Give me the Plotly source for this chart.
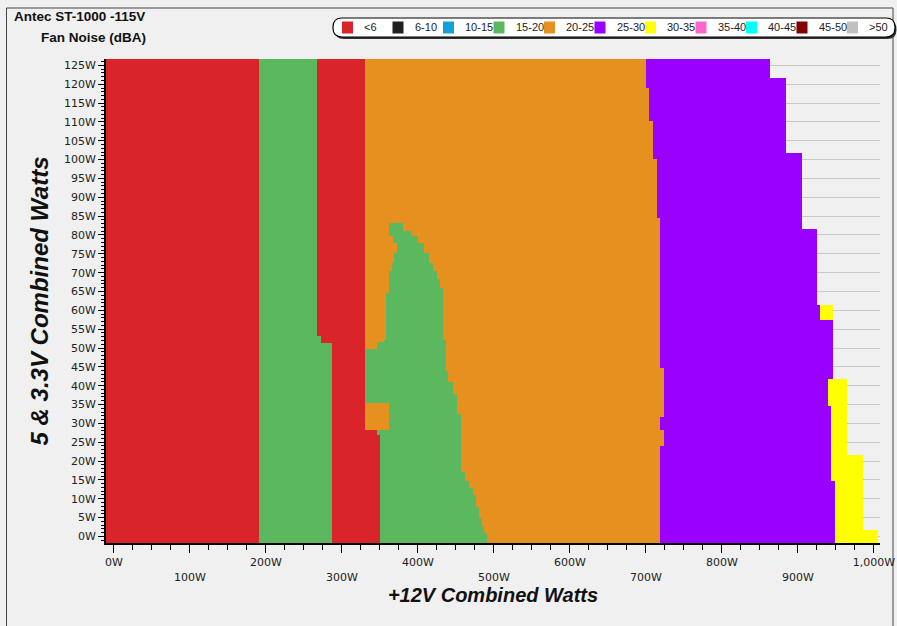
import numpy as np
import plotly.graph_objects as go

# ---------------- data ----------------
categories = ["<6", "6-10", "10-15", "15-20", "20-25", "25-30", "30-35", "35-40", "40-45", "45-50", ">50"]
cat_colors = ["#d9252a", "#231f20", "#12a0d7", "#5cb85f", "#e69020", "#9900ff",
              "#ffff00", "#ff66cc", "#00ffff", "#800000", "#c0c0c0"]

# Boundaries between noise zones: for each boundary, the lower edge (W, 5V&3.3V load)
# of each band and the +12V load (W) where the zone changes.
red1_end_y = [0]
red1_end_x = [191]

green1_end_y = [0, 51.5, 53.1]
green1_end_x = [287, 273, 267.5]

red2_end_y = [0, 27, 28.3]
red2_end_x = [350, 345.7, 331]

green2_start_y = [0, 27, 28.3, 35.5, 49.8, 51.7, 52.2, 64.7, 70.3, 72.6, 75.2, 77.9, 79.6, 83.2]
green2_start_x = [350, 345.7, 362, 331, 347, 356, 359, 362, 366, 369, 373, 368, 363, None]

green2_end_y = [0, 1, 3, 5, 8, 11, 13, 14.6, 17.2, 32.3, 38, 41, 44, 52.2, 66, 68.5, 70.3,
                72.6, 75.2, 77.9, 79.6, 81.2, 83.2]
green2_end_x = [491, 488, 485, 481, 477, 473, 467, 462, 457, 452, 446, 440, 437, 433, 429, 425, 420,
                415, 409, 401, 391, 381, None]

purple_start_y = [0, 23.9, 28.2, 31.6, 44.7, 84.5, 100.2, 110.2, 119]
purple_start_x = [719, 724, 719, 724, 719, 715, 710, 705, 700]

purple_end_y = [0, 14.6, 34.7, 41.8, 57.5, 61.5, 81.6, 101.6, 121.7]
purple_end_x = [949, 944, 940, 946, 929, 926, 906, 885, 863]

yellow_end_y = [0, 1.6, 21.7, 41.8, 57.5, 61.5]
yellow_end_x = [1006, 986, 965, None, 946, None]

y_tick_vals = list(range(0, 130, 5))
y_tick_text = [f"{v}W" for v in y_tick_vals]
x_tick_vals = list(range(0, 1100, 100))
x_tick_text = ["0W", "100W", "200W", "300W", "400W", "500W", "600W", "700W", "800W", "900W", "1,000W"]

# ---------------- grid ----------------
X_MIN, X_MAX = -10.5, 1008
Y_MIN, Y_MAX = -1.75, 126.7
xs = np.arange(-11.0, 1010.0, 1.0)
ys = np.arange(-2.0, 127.5, 0.25)


def step(yl, xv, y):
    idx = np.searchsorted(np.array(yl, float), y, side="right") - 1
    idx = np.clip(idx, 0, None)
    return np.array(xv, dtype=float)[idx]


z = np.full((len(ys), len(xs)), np.nan)
X = xs[None, :]


def paint(a, b, cat):
    m = (X >= a[:, None]) & (X < b[:, None])
    z[m] = cat


r1 = step(red1_end_y, red1_end_x, ys)
g1 = step(green1_end_y, green1_end_x, ys)
r2 = step(red2_end_y, red2_end_x, ys)
o1 = step(green2_start_y, green2_start_x, ys)
g2 = step(green2_end_y, green2_end_x, ys)
p0 = step(purple_start_y, purple_start_x, ys)
p1 = step(purple_end_y, purple_end_x, ys)
y1 = step(yellow_end_y, yellow_end_x, ys)
xmin_arr = np.full(len(ys), -20.0)

paint(xmin_arr, r1, 0)
paint(r1, g1, 3)
paint(g1, r2, 0)
paint(r2, p0, 4)
paint(o1, g2, 3)
paint(p0, p1, 5)
paint(p1, y1, 6)

n = len(categories)
colorscale = []
for k, c in enumerate(cat_colors):
    colorscale.append([k / n, c])
    colorscale.append([(k + 1) / n, c])

fig = go.Figure()
fig.add_trace(go.Heatmap(x=xs, y=ys, z=z, colorscale=colorscale, zmin=-0.5, zmax=n - 0.5,
                         showscale=False, hoverinfo="skip", zsmooth=False, showlegend=False))

# ---------------- layout ----------------
W, H = 897, 626
ML, MR, MT, MB = 106, 17, 59, 83
PW, PH = W - ML - MR, H - MT - MB


def px_x(px):
    return (px - ML) / PW


def px_y(py):
    return (H - MB - py) / PH


def rounded(x0, y0, x1, y1, r):
    X0, X1 = px_x(x0), px_x(x1)
    Y0, Y1 = px_y(y0), px_y(y1)
    rx = r / PW
    ry = r / PH
    return (f"M {X0+rx},{Y0} L {X1-rx},{Y0} Q {X1},{Y0} {X1},{Y0-ry} L {X1},{Y1+ry} "
            f"Q {X1},{Y1} {X1-rx},{Y1} L {X0+rx},{Y1} Q {X0},{Y1} {X0},{Y1+ry} L {X0},{Y0-ry} "
            f"Q {X0},{Y0} {X0+rx},{Y0} Z")


shapes = [
    dict(type="rect", xref="paper", yref="paper", x0=px_x(6.5), x1=px_x(893), y0=px_y(8), y1=px_y(640),
         line=dict(color="#444444", width=1), fillcolor="rgba(0,0,0,0)", layer="below"),
    dict(type="path", xref="paper", yref="paper", path=rounded(335, 20.5, 896.5, 39, 9),
         fillcolor="#333333", line=dict(width=0), layer="above"),
    dict(type="path", xref="paper", yref="paper", path=rounded(333, 18, 895, 37, 9),
         fillcolor="#ffffff", line=dict(color="#000000", width=1.2), layer="above"),
]

annotations = [
    dict(text="<b>Antec ST-1000 -115V</b>", xref="paper", yref="paper", x=px_x(12), y=px_y(16.5),
         xanchor="left", yanchor="middle", showarrow=False,
         font=dict(family="Liberation Sans", size=13.5, color="#111111")),
    dict(text="<b>Fan Noise (dBA)</b>", xref="paper", yref="paper", x=px_x(39), y=px_y(37),
         xanchor="left", yanchor="middle", showarrow=False,
         font=dict(family="Liberation Sans", size=13.5, color="#111111")),
]

# legend keys (one swatch + label per noise category)
LEG_X0, LEG_STEP, LEG_Y = 342, 50.5, 27.5
for k, (lab, col) in enumerate(zip(categories, cat_colors)):
    sx = LEG_X0 + k * LEG_STEP
    shapes.append(dict(type="rect", xref="paper", yref="paper",
                       x0=px_x(sx), x1=px_x(sx + 11), y0=px_y(LEG_Y - 6), y1=px_y(LEG_Y + 6),
                       fillcolor=col, line=dict(width=0), layer="above"))
    annotations.append(dict(text=lab.replace("<", "&lt;").replace(">", "&gt;"), xref="paper", yref="paper",
                            x=px_x(sx + 20), y=px_y(LEG_Y), xanchor="left", yanchor="middle",
                            showarrow=False,
                            font=dict(family="Liberation Sans", size=11, color="#222222")))

tickfont = dict(family="DejaVu Sans", size=11, color="#222222")

fig.update_layout(
    width=W, height=H,
    margin=dict(l=ML, r=MR, t=MT, b=MB, autoexpand=False),
    paper_bgcolor="#f0f0f0", plot_bgcolor="#f0f0f0",
    shapes=shapes,
    annotations=annotations,
    showlegend=False,
    xaxis=dict(range=[X_MIN, X_MAX], tickvals=x_tick_vals,
               ticktext=[t if i % 2 == 0 else "<br>" + t for i, t in enumerate(x_tick_text)],
               ticks="outside", ticklen=8, tickcolor="#000000", tickwidth=1,
               showline=True, linewidth=2, linecolor="#000000", showgrid=False, zeroline=False,
               minor=dict(dtick=25, tick0=0, ticks="outside", ticklen=5, tickcolor="#000000", showgrid=False),
               tickfont=tickfont,
               title=dict(text="<b><i>+12V Combined Watts</i></b>", standoff=3,
                          font=dict(family="Liberation Sans", size=20, color="#111111"))),
    yaxis=dict(range=[Y_MIN, Y_MAX], tickvals=y_tick_vals, ticktext=y_tick_text,
               ticks="outside", ticklen=6, tickcolor="#000000", tickwidth=1,
               showline=True, linewidth=2, linecolor="#000000",
               showgrid=True, gridcolor="#c8c8c8", gridwidth=1, zeroline=False,
               minor=dict(dtick=1, tick0=0, ticks="outside", ticklen=3, tickcolor="#000000", showgrid=False),
               tickfont=tickfont,
               title=dict(text="<b><i>5 &amp; 3.3V Combined Watts</i></b>", standoff=9,
                          font=dict(family="Liberation Sans", size=24, color="#111111"))),
)

fig.write_html("out.html")
